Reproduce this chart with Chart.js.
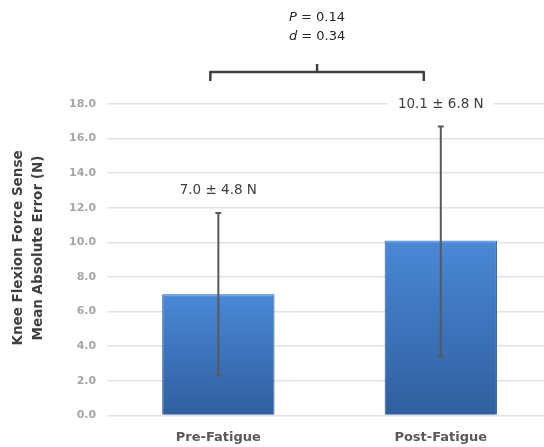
<!DOCTYPE html>
<html>
<head>
<meta charset="utf-8">
<script src="https://cdn.jsdelivr.net/npm/chart.js@4.4.0/dist/chart.umd.min.js"></script>
<style>
  html, body { margin: 0; padding: 0; background: #fff; overflow: hidden; }
  #wrap { width: 552px; height: 447px; }
</style>
</head>
<body>
<div id="wrap"><canvas id="chart" width="552" height="447"></canvas></div>
<script>
var categories = ["Pre-Fatigue", "Post-Fatigue"];
var means = [7.0, 10.1];
var errLow = [2.3, 3.4];
var errHigh = [11.7, 16.7];
var barLabels = ["7.0 \u00b1 4.8 N", "10.1 \u00b1 6.8 N"];
var statLines = [["P", " = 0.14"], ["d", " = 0.34"]];
var yTitle = ["Knee Flexion Force Sense", "Mean Absolute Error (N)"];

var FONT = "'DejaVu Sans', sans-serif";

// per-bar vertical gradient
function barFill(ctx) {
  var chart = ctx.chart;
  if (!chart.chartArea) return "#3f78c2";
  var y = chart.scales.y;
  var top = y.getPixelForValue(ctx.raw);
  var bottom = y.getPixelForValue(0);
  var g = chart.ctx.createLinearGradient(0, top, 0, bottom);
  g.addColorStop(0, "#4a88d6");
  g.addColorStop(1, "#2f5f9f");
  return g;
}

var extras = {
  id: "extras",
  afterDatasetsDraw: function(chart) {
    var ctx = chart.ctx;
    var y = chart.scales.y;
    var meta = chart.getDatasetMeta(0);

    // light bevel on bar tops
    ctx.save();
    ctx.fillStyle = "rgba(120,170,235,0.7)";
    meta.data.forEach(function(bar) {
      ctx.fillRect(bar.x - bar.width / 2 + 1, bar.y, bar.width - 2, 2);
    });

    // error bars
    ctx.strokeStyle = "#595959";
    ctx.lineWidth = 2;
    meta.data.forEach(function(bar, i) {
      var x = bar.x;
      var yl = y.getPixelForValue(errLow[i]);
      var yh = y.getPixelForValue(errHigh[i]);
      ctx.beginPath();
      ctx.moveTo(x, yl); ctx.lineTo(x, yh);
      ctx.moveTo(x - 3, yl); ctx.lineTo(x + 3, yl);
      ctx.moveTo(x - 3, yh); ctx.lineTo(x + 3, yh);
      ctx.stroke();
    });

    // mean ± sd labels
    ctx.font = "13.5px " + FONT;
    ctx.textAlign = "center";
    ctx.textBaseline = "middle";
    meta.data.forEach(function(bar, i) {
      var ly = y.getPixelForValue(errHigh[i]) - 22;
      var w = ctx.measureText(barLabels[i]).width + 20;
      ctx.fillStyle = "#fff";
      ctx.fillRect(bar.x - w / 2, ly - 8, w, 16);
      ctx.fillStyle = "#404040";
      ctx.fillText(barLabels[i], bar.x, ly);
    });

    // bracket
    var x0 = meta.data[0].x - 8, x1 = meta.data[1].x - 17, xm = (x0 + x1) / 2;
    var by = 72;
    ctx.strokeStyle = "#404040";
    ctx.lineWidth = 2.5;
    ctx.lineJoin = "round";
    ctx.beginPath();
    ctx.moveTo(x0, by + 9);
    ctx.lineTo(x0, by);
    ctx.lineTo(x1, by);
    ctx.lineTo(x1, by + 9);
    ctx.moveTo(xm, by);
    ctx.lineTo(xm, by - 8);
    ctx.stroke();

    // stats text
    ctx.fillStyle = "#262626";
    ctx.textAlign = "left";
    statLines.forEach(function(parts, i) {
      var ty = 18 + i * 19;
      ctx.font = "italic 13px " + FONT;
      var w1 = ctx.measureText(parts[0]).width;
      ctx.font = "13px " + FONT;
      var w2 = ctx.measureText(parts[1]).width;
      var sx = xm - (w1 + w2) / 2;
      ctx.font = "italic 13px " + FONT;
      ctx.fillText(parts[0], sx, ty);
      ctx.font = "13px " + FONT;
      ctx.fillText(parts[1], sx + w1, ty);
    });

    // y axis title
    ctx.fillStyle = "#404040";
    ctx.font = "bold 13.5px " + FONT;
    ctx.textAlign = "center";
    ctx.translate(0, 248);
    ctx.rotate(-Math.PI / 2);
    yTitle.forEach(function(t, i) {
      ctx.fillText(t, 0, 18 + i * 20);
    });
    ctx.restore();
  }
};

new Chart(document.getElementById("chart").getContext("2d"), {
  type: "bar",
  data: {
    labels: categories,
    datasets: [{
      data: means,
      backgroundColor: barFill,
      borderColor: "#2c5a96",
      borderWidth: 1,
      barPercentage: 0.505,
      categoryPercentage: 1.0
    }]
  },
  options: {
    responsive: false,
    animation: false,
    layout: { padding: { top: 104, bottom: -12, left: 58, right: 0 } },
    plugins: { legend: { display: false }, tooltip: { enabled: false } },
    scales: {
      x: {
        grid: { display: false, drawTicks: false },
        border: { display: false },
        ticks: { color: "#595959", font: { family: FONT, size: 13, weight: "bold" }, padding: 14 }
      },
      y: {
        min: 0, max: 18,
        grid: { color: "#e3e3e3", lineWidth: 1.5, drawTicks: false },
        border: { display: false },
        ticks: {
          stepSize: 2,
          padding: 11,
          color: "#a6a6a6",
          font: { family: FONT, size: 11, weight: "bold" },
          callback: function(v) { return v.toFixed(1); }
        }
      }
    }
  },
  plugins: [extras]
});
</script>
</body>
</html>
